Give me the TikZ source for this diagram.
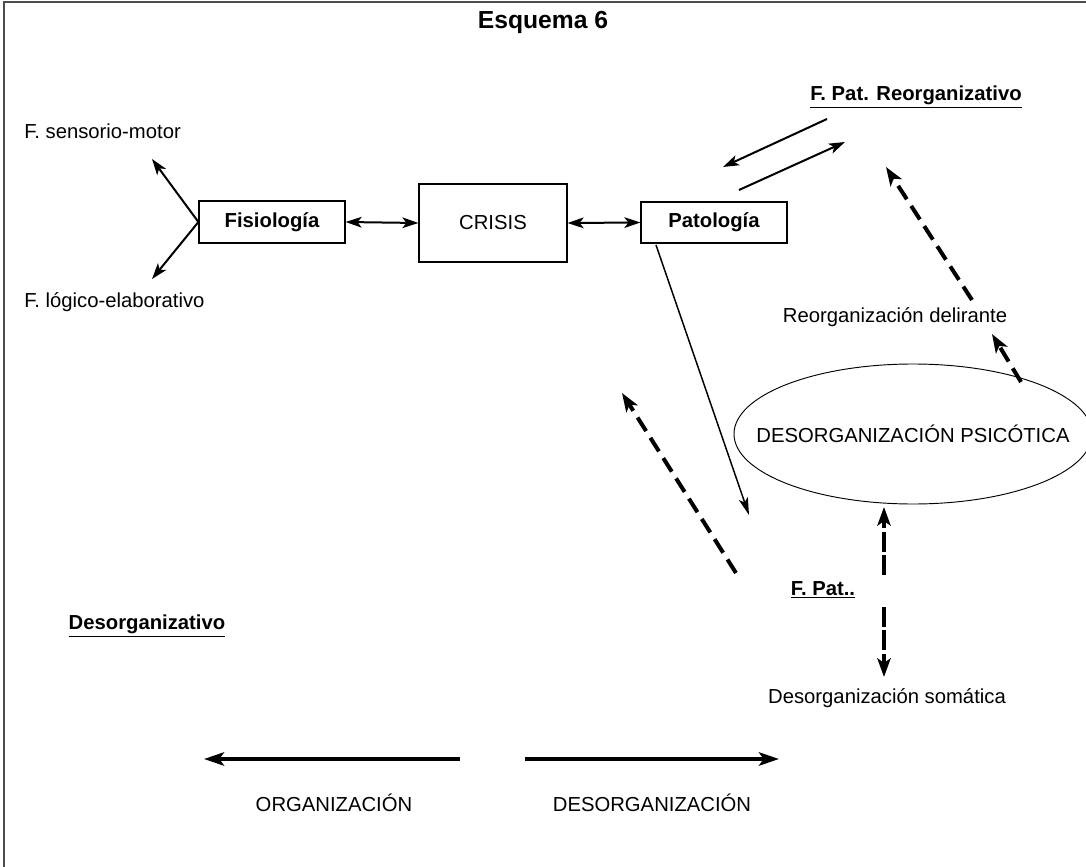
\documentclass[tikz,border=0pt]{standalone}
\usepackage{fontspec}
\setmainfont{Liberation Sans}
\usetikzlibrary{arrows.meta,shapes.geometric}
\begin{document}
\begin{tikzpicture}[x=0.75pt,y=-0.75pt,
  lbl/.style={font=\fontsize{15.2pt}{17pt}\selectfont, inner sep=0pt},
  blbl/.style={font=\fontsize{15.2pt}{17pt}\selectfont\bfseries, inner sep=0pt},
  boxnode/.style={draw, line width=0.9pt, inner sep=0pt, font=\fontsize{15.2pt}{17pt}\selectfont},
  thin/.style={line width=1.1pt, -{Stealth[length=13pt,width=7pt,inset=3pt]}},
  med/.style={line width=1.5pt, -{Stealth[length=12pt,width=8pt,inset=3pt]}},
  dbl/.style={line width=1.5pt, {Stealth[length=12pt,width=8pt,inset=3pt]}-{Stealth[length=12pt,width=8pt,inset=3pt]}},
  dsh/.style={line width=3pt, dash pattern=on 12pt off 6pt, -{Stealth[length=14pt,width=10pt,inset=3.5pt]}},
  vdsh/.style={line width=3pt, dash pattern=on 15pt off 2.5pt, -{Stealth[length=14pt,width=10pt,inset=3.5pt]}},
  thick/.style={line width=3pt, -{Stealth[length=15pt,width=10pt,inset=3.5pt]}}]
\useasboundingbox (0,0) rectangle (1086,867);
\draw[line width=1.4pt, black!70] (4,867) -- (4,2) -- (1086,2);

\node[font=\fontsize{18.5pt}{20pt}\selectfont\bfseries, inner sep=0pt] (title) at (543,22) {Esquema 6};

% boxes
\node[boxnode, minimum width=109.5pt, minimum height=31.5pt, font=\fontsize{15.2pt}{17pt}\selectfont\bfseries] (fis) at (272,222) {Fisiología};
\node[boxnode, minimum width=111pt, minimum height=58.5pt] (crisis) at (493,223) {CRISIS};
\node[boxnode, minimum width=109.5pt, minimum height=30.75pt, font=\fontsize{15.2pt}{17pt}\selectfont\bfseries] (pat) at (714,222.5) {Patología};

% side labels
\node[lbl, anchor=west] (sm) at (24,131) {F. sensorio-motor};
\node[lbl, anchor=west] (le) at (24,302) {F. lógico-elaborativo};
\coordinate (smtip) at (152,159);
\coordinate (letip) at (152,279);
\draw[med] (fis.west) -- (smtip);
\draw[med] (fis.west) -- (letip);

\draw[dbl] (fis.east) -- (crisis.west);
\draw[dbl] (crisis.east) -- (pat.west);

% reorganizativo
\node[blbl] (reorg) at (916,97) {\underline{F. Pat. Reorganizativo}};
\coordinate (r1s) at (827,119);
\coordinate (r1e) at (723,167);
\coordinate (r2s) at (739,190);
\coordinate (r2e) at (845,142);
\draw[med] (r1s) -- (r1e);
\draw[med] (r2s) -- (r2e);

% reorganizacion delirante
\node[lbl] (rd) at (895,317) {Reorganización delirante};
\coordinate (d1s) at (972,300);
\coordinate (d1e) at (886,167);
\draw[dsh] (d1s) -- (d1e);

% ellipse
\node[ellipse, draw, line width=0.7pt, minimum width=268.5pt, minimum height=105pt, inner sep=0pt] (ell) at (913,434) {};
\node[lbl] (elltext) at (ell.center) {DESORGANIZACIÓN PSICÓTICA};
\coordinate (d2s) at (1021,382);
\coordinate (d2e) at (992,334);
\draw[dsh] (d2s) -- (d2e);

% thin arrow from Patologia
\coordinate (p1s) at (656,245);
\coordinate (p1e) at (749,515);
\draw[thin] (p1s) -- (p1e);

% dashed arrow to upper left
\coordinate (d3s) at (736,573);
\coordinate (d3e) at (622,393);
\draw[dsh] (d3s) -- (d3e);

% F. Pat..
\node[blbl] (fpat) at (823,590) {\underline{F. Pat..}};
\coordinate (v1s) at (884,575);
\coordinate (v1e) at (884,507);
\draw[vdsh] (v1s) -- (v1e);
\coordinate (v2s) at (884,607);
\coordinate (v2e) at (884,677);
\draw[vdsh] (v2s) -- (v2e);
\node[lbl] (som) at (887,698) {Desorganización somática};

\node[blbl] (desorg) at (147,626) {\underline{Desorganizativo}};

% bottom arrows
\coordinate (o1s) at (460,759);
\coordinate (o1e) at (204,759);
\draw[thick] (o1s) -- (o1e);
\coordinate (o2s) at (525,759);
\coordinate (o2e) at (779,759);
\draw[thick] (o2s) -- (o2e);
\node[lbl] (org) at (334,803) {ORGANIZACIÓN};
\node[lbl] (dorg) at (652,803) {DESORGANIZACIÓN};
\end{tikzpicture}
\end{document}
